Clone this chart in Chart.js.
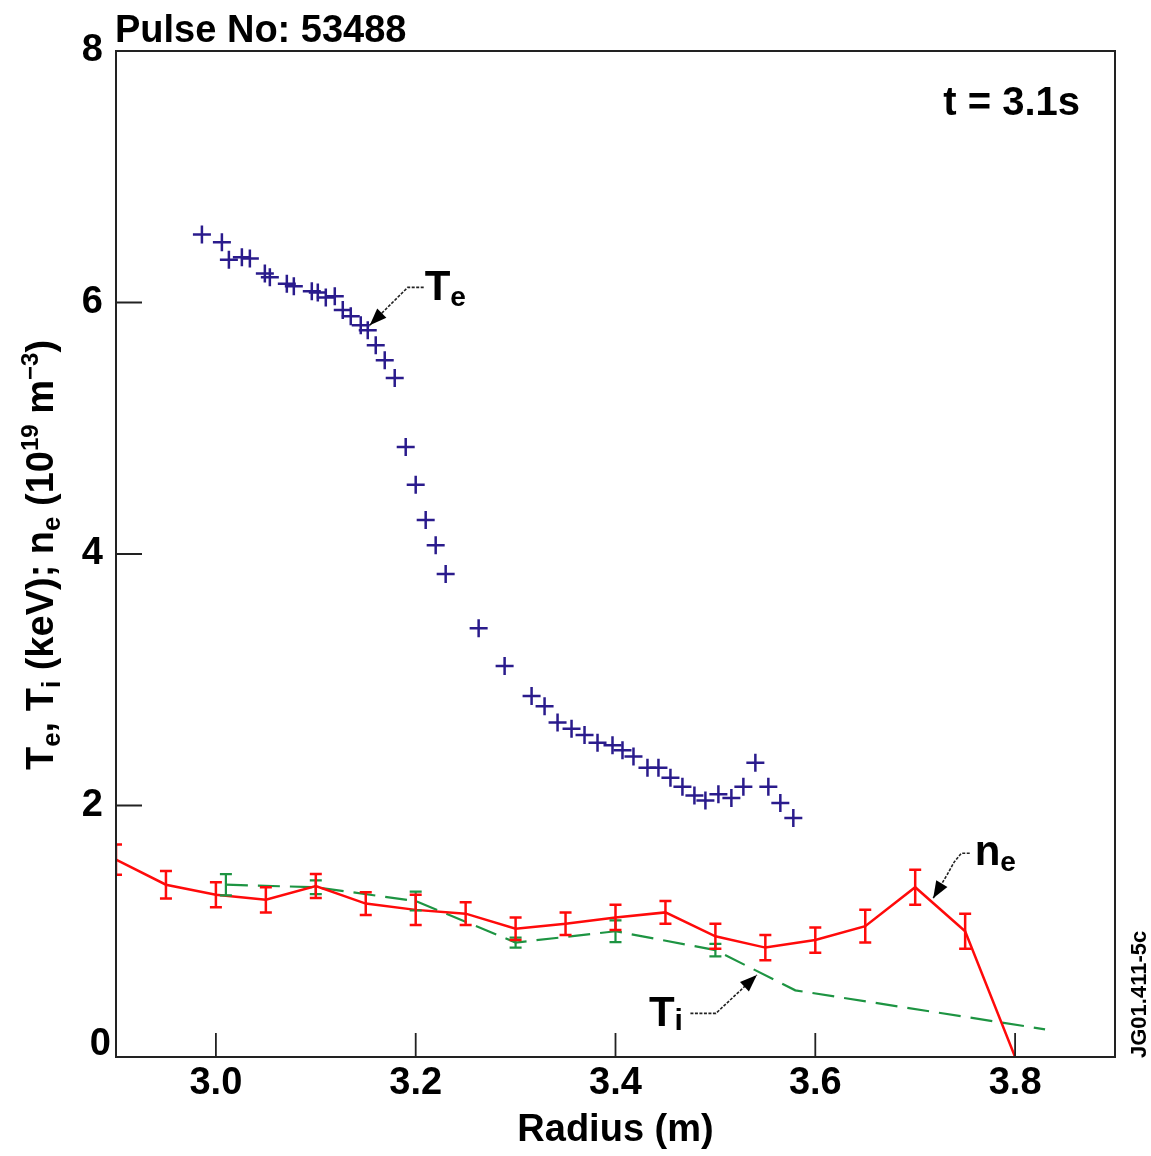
<!DOCTYPE html>
<html>
<head>
<meta charset="utf-8">
<script src="https://cdn.jsdelivr.net/npm/chart.js@4.4.1/dist/chart.umd.min.js"></script>
<style>
  html, body { margin: 0; padding: 0; background: #fff; }
  canvas { display: block; }
</style>
</head>
<body>
<canvas id="c" width="1151" height="1156"></canvas>
<script>
// Electron temperature profile (keV) from ECE
const teR   = [2.986,3.006,3.013,3.026,3.034,3.049,3.054,3.071,3.078,3.096,3.102,3.110,3.119,3.127,3.135,3.145,3.152,3.160,3.169,3.179,3.190,3.200,3.210,3.220,3.230,3.263,3.289,3.316,3.329,3.342,3.356,3.369,3.382,3.397,3.407,3.418,3.432,3.443,3.455,3.467,3.479,3.490,3.503,3.516,3.528,3.540,3.553,3.565,3.578];
const teVal = [6.54,6.48,6.34,6.36,6.35,6.23,6.20,6.15,6.13,6.09,6.08,6.04,6.05,5.94,5.89,5.82,5.78,5.66,5.54,5.40,4.85,4.55,4.27,4.07,3.84,3.41,3.11,2.87,2.79,2.66,2.61,2.56,2.50,2.48,2.44,2.39,2.30,2.30,2.22,2.15,2.08,2.04,2.09,2.06,2.15,2.34,2.15,2.02,1.90];

// Electron density profile (10^19 m^-3) with uncertainties
const neR   = [2.90,2.95,3.00,3.05,3.10,3.15,3.20,3.25,3.30,3.35,3.40,3.45,3.50,3.55,3.60,3.65,3.70,3.75,3.80];
const neVal = [1.57,1.37,1.29,1.25,1.36,1.22,1.17,1.14,1.02,1.06,1.11,1.15,0.96,0.87,0.93,1.04,1.35,1.00,0.00];
const neErr = [0.12,0.11,0.10,0.10,0.095,0.09,0.12,0.09,0.09,0.09,0.10,0.09,0.10,0.10,0.10,0.13,0.14,0.14,null];

// Ion temperature profile (keV) from CX spectroscopy
const tiR   = [3.01,3.10,3.20,3.30,3.40,3.50,3.58,3.83];
const tiVal = [1.37,1.35,1.24,0.91,1.00,0.85,0.53,0.22];
const tiErr = [0.085,0.055,0.075,0.04,0.087,0.05,null,null];

const xTicks = [3.0, 3.2, 3.4, 3.6, 3.8];
const yTicks = [0, 2, 4, 6, 8];

const FONT = '"Liberation Sans", Arial, Helvetica, sans-serif';
const NAVY = '#2a1b8c';
const RED = '#ff0a0a';
const GREEN = '#1d9442';
const INK = '#000';

function font(size) { return 'bold ' + size + 'px ' + FONT; }

// Draws a run of text pieces with their own size and baseline shift
function drawRich(ctx, x, y, parts, align) {
  let total = 0;
  parts.forEach(p => { ctx.font = font(p.s); total += ctx.measureText(p.t).width; });
  let cx = align === 'center' ? x - total / 2 : (align === 'right' ? x - total : x);
  ctx.textAlign = 'left';
  ctx.textBaseline = 'alphabetic';
  parts.forEach(p => {
    ctx.font = font(p.s);
    ctx.fillText(p.t, cx, y + (p.dy || 0));
    cx += ctx.measureText(p.t).width;
  });
}

function arrowHead(ctx, from, tip, len, half) {
  const a = Math.atan2(tip[1] - from[1], tip[0] - from[0]);
  ctx.beginPath();
  ctx.moveTo(tip[0], tip[1]);
  ctx.lineTo(tip[0] - len * Math.cos(a) + half * Math.sin(a), tip[1] - len * Math.sin(a) - half * Math.cos(a));
  ctx.lineTo(tip[0] - len * Math.cos(a) - half * Math.sin(a), tip[1] - len * Math.sin(a) + half * Math.cos(a));
  ctx.closePath();
  ctx.fill();
}

// Leader line through data-space points ending in an arrow
function leader(ctx, x, y, pts) {
  const px = pts.map(p => [x.getPixelForValue(p[0]), y.getPixelForValue(p[1])]);
  ctx.save();
  ctx.strokeStyle = '#222';
  ctx.lineWidth = 1.6;
  ctx.setLineDash([3, 1.5]);
  ctx.beginPath();
  ctx.moveTo(px[0][0], px[0][1]);
  for (let i = 1; i < px.length; i++) ctx.lineTo(px[i][0], px[i][1]);
  ctx.stroke();
  ctx.setLineDash([]);
  ctx.fillStyle = '#000';
  arrowHead(ctx, px[px.length - 2], px[px.length - 1], 17, 6.5);
  ctx.restore();
}

const errorBars = {
  id: 'errorBars',
  afterDatasetsDraw(chart) {
    const { ctx, chartArea: a, scales: { x, y } } = chart;
    ctx.save();
    ctx.beginPath();
    ctx.rect(a.left, a.top, a.right - a.left, a.bottom - a.top);
    ctx.clip();
    const draw = (rs, vs, es, color, w) => {
      ctx.strokeStyle = color;
      ctx.lineWidth = w;
      rs.forEach((r, i) => {
        if (es[i] == null) return;
        const px = x.getPixelForValue(r);
        const top = y.getPixelForValue(vs[i] + es[i]);
        const bot = y.getPixelForValue(vs[i] - es[i]);
        ctx.beginPath();
        ctx.moveTo(px, top); ctx.lineTo(px, bot);
        ctx.moveTo(px - 6, top); ctx.lineTo(px + 6, top);
        ctx.moveTo(px - 6, bot); ctx.lineTo(px + 6, bot);
        ctx.stroke();
      });
    };
    draw(tiR, tiVal, tiErr, GREEN, 2.2);
    draw(neR, neVal, neErr, RED, 2.5);
    ctx.restore();
  }
};

const frameAndLabels = {
  id: 'frameAndLabels',
  afterDraw(chart) {
    const { ctx, chartArea: a, scales: { x, y } } = chart;
    ctx.save();
    // frame
    ctx.strokeStyle = '#222';
    ctx.lineWidth = 2;
    ctx.strokeRect(a.left, a.top, a.right - a.left, a.bottom - a.top);
    // inward tick marks
    ctx.lineWidth = 1.8;
    ctx.beginPath();
    xTicks.forEach(v => {
      const px = x.getPixelForValue(v);
      ctx.moveTo(px, a.bottom); ctx.lineTo(px, a.bottom - 24);
    });
    yTicks.forEach(v => {
      if (v === 0 || v === 8) return;
      const py = y.getPixelForValue(v);
      ctx.moveTo(a.left, py); ctx.lineTo(a.left + 26, py);
    });
    ctx.stroke();

    ctx.fillStyle = INK;
    // origin label sits just above the corner
    ctx.font = font(38);
    ctx.textAlign = 'right';
    ctx.textBaseline = 'middle';
    ctx.fillText(String(yTicks[0]), a.left - 5, y.getPixelForValue(yTicks[0]) - 12);

    // pulse number and time slice
    drawRich(ctx, a.left - 1, a.top - 9, [{ t: 'Pulse No: 53488', s: 38 }], 'left');
    drawRich(ctx, a.right - 35, a.top + 64, [{ t: 't = 3.1s', s: 40 }], 'right');

    // curve labels
    drawRich(ctx, x.getPixelForValue(3.209), y.getPixelForValue(6.02),
      [{ t: 'T', s: 42 }, { t: 'e', s: 28, dy: 6 }], 'left');
    leader(ctx, x, y, [[3.208, 6.12], [3.192, 6.12], [3.154, 5.82]]);

    drawRich(ctx, x.getPixelForValue(3.4335), y.getPixelForValue(0.25),
      [{ t: 'T', s: 42 }, { t: 'i', s: 30, dy: 4 }], 'left');
    leader(ctx, x, y, [[3.475, 0.347], [3.5005, 0.347], [3.5415, 0.652]]);

    drawRich(ctx, x.getPixelForValue(3.7595), y.getPixelForValue(1.527),
      [{ t: 'n', s: 42 }, { t: 'e', s: 28, dy: 6 }], 'left');
    leader(ctx, x, y, [[3.7546, 1.62], [3.7462, 1.62], [3.739, 1.55], [3.732, 1.45], [3.718, 1.262]]);

    // y-axis title
    ctx.save();
    ctx.translate(53, (a.top + a.bottom) / 2 + 1);
    ctx.rotate(-Math.PI / 2);
    drawRich(ctx, 0, 0, [
      { t: 'T', s: 38 }, { t: 'e', s: 26, dy: 7 }, { t: ', T', s: 38 }, { t: 'i', s: 26, dy: 7 },
      { t: ' (keV); n', s: 38 }, { t: 'e', s: 26, dy: 7 }, { t: ' (10', s: 38 },
      { t: '19', s: 24, dy: -15 }, { t: ' m', s: 38 }, { t: '\u22123', s: 24, dy: -15 }, { t: ')', s: 38 }
    ], 'center');
    ctx.restore();

    // figure reference code
    ctx.save();
    ctx.translate(1146, a.bottom + 1);
    ctx.rotate(-Math.PI / 2);
    drawRich(ctx, 0, 0, [{ t: 'JG01.411-5c', s: 22 }], 'left');
    ctx.restore();

    ctx.restore();
  }
};

new Chart(document.getElementById('c'), {
  type: 'scatter',
  data: {
    datasets: [
      {
        label: 'Te',
        data: teR.map((r, i) => ({ x: r, y: teVal[i] })),
        showLine: false,
        pointStyle: 'cross',
        pointRadius: 9,
        pointBorderWidth: 2.5,
        borderColor: NAVY,
        backgroundColor: NAVY,
        order: 0
      },
      {
        label: 'ne',
        data: neR.map((r, i) => ({ x: r, y: neVal[i] })),
        showLine: true,
        borderColor: RED,
        backgroundColor: RED,
        borderWidth: 2.5,
        pointRadius: 0,
        tension: 0,
        order: 1
      },
      {
        label: 'Ti',
        data: tiR.map((r, i) => ({ x: r, y: tiVal[i] })),
        showLine: true,
        borderColor: GREEN,
        backgroundColor: GREEN,
        borderWidth: 2.2,
        borderDash: [22, 10],
        pointRadius: 0,
        tension: 0,
        order: 2
      }
    ]
  },
  options: {
    responsive: false,
    animation: false,
    devicePixelRatio: 1,
    layout: { padding: { top: 51, right: 36, left: 0, bottom: 0 } },
    plugins: { legend: { display: false }, tooltip: { enabled: false } },
    scales: {
      x: {
        type: 'linear',
        min: 2.9,
        max: 3.9,
        afterBuildTicks: s => { s.ticks = xTicks.map(v => ({ value: v })); },
        ticks: {
          callback: v => Number(v).toFixed(1),
          font: { family: FONT, size: 38, weight: 'bold' },
          color: INK,
          padding: -4,
          maxRotation: 0,
          autoSkip: false
        },
        grid: { display: false },
        border: { display: false },
        title: {
          display: true,
          text: 'Radius (m)',
          font: { family: FONT, size: 38, weight: 'bold' },
          color: INK,
          padding: { top: 0, bottom: 3 }
        },
        afterFit: s => { s.height = 99; }
      },
      y: {
        type: 'linear',
        min: 0,
        max: 8,
        afterBuildTicks: s => { s.ticks = yTicks.map(v => ({ value: v })); },
        ticks: {
          callback: v => (v === yTicks[0] ? '' : String(v)),
          font: { family: FONT, size: 38, weight: 'bold' },
          color: INK,
          padding: 5
        },
        grid: { display: false },
        border: { display: false },
        afterFit: s => { s.width = 116; }
      }
    }
  },
  plugins: [errorBars, frameAndLabels]
});
</script>
</body>
</html>
